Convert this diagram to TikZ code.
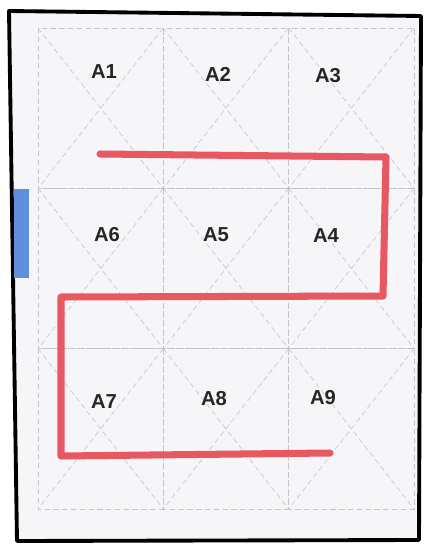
\documentclass[tikz,border=0pt]{standalone}
\usepackage{fontspec}
\setmainfont{Liberation Sans}
\definecolor{gridgray}{RGB}{196,196,208}
\definecolor{pathred}{RGB}{232,88,96}
\definecolor{tabblue}{RGB}{98,142,222}
\definecolor{paper}{RGB}{246,245,248}
\begin{document}
\begin{tikzpicture}[x=0.02cm,y=-0.02cm,
        cell/.style={gridgray,line width=0.35pt,densely dashed},
        route/.style={pathred,line width=4pt,line cap=round,line join=round},
        lbl/.style={font=\bfseries\fontsize{11.5}{13}\selectfont,text=black!85}]
        \useasboundingbox (0,0) rectangle (424,544);
        \fill [white] (0,0) rectangle (424,544);
        \fill [paper] (9,11) -- (421,16) -- (419,540) -- (17,541) -- cycle;
        % grid of cells with crosses
        \foreach \x in {38,163.3,288.7}
            \foreach \y in {28,188.3,348.6} {
                \draw [cell] (\x,\y) rectangle ++(125.3,160.3);
                \draw [cell] (\x,\y) -- ++(125.3,160.3);
                \draw [cell] (\x+125.3,\y) -- ++(-125.3,160.3);
            }
        \draw [line width=2.2pt,line join=round] (9,11) -- (421,16) -- (419,540) -- (17,541) -- cycle;
        \fill [tabblue] (14,189) rectangle (29,278);
        \node [lbl] (a1) at (104,72) {A1};
        \node [lbl] (a2) at (218,74) {A2};
        \node [lbl] (a3) at (328,76) {A3};
        \node [lbl] (a6) at (107,235) {A6};
        \node [lbl] (a5) at (216,235) {A5};
        \node [lbl] (a4) at (326,236) {A4};
        \node [lbl] (a7) at (104,402) {A7};
        \node [lbl] (a8) at (214,399) {A8};
        \node [lbl] (a9) at (323,398) {A9};
        % route
        \coordinate (s0) at (100,154);
        \coordinate (s1) at (386,157);
        \coordinate (s2) at (383,296);
        \coordinate (s3) at (61,297);
        \coordinate (s4) at (61,456);
        \coordinate (s5) at (330,453);
        \draw [route] (s0) -- (s1) -- (s2) -- (s3) -- (s4) -- (s5);
\end{tikzpicture}
\end{document}
